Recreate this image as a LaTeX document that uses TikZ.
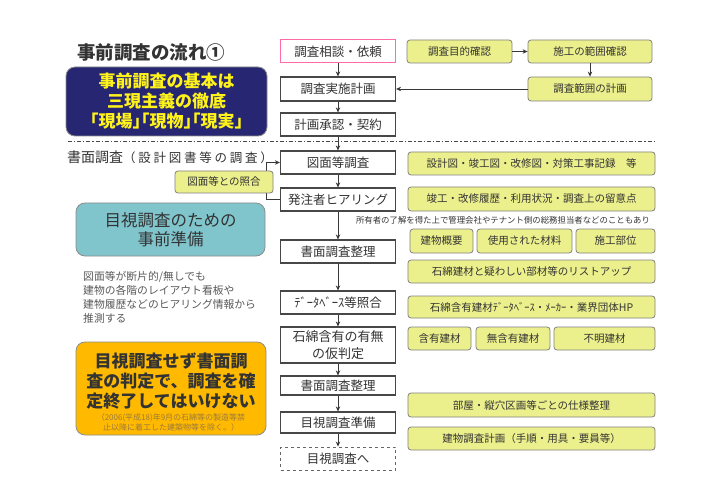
\documentclass[tikz,border=0pt]{standalone}
\usepackage{fontspec}
\setmainfont{Noto Sans CJK JP}
\usepackage{tikz}
\usetikzlibrary{arrows.meta}
\definecolor{navybox}{HTML}{262673}
\definecolor{tealbox}{HTML}{80C4CC}
\definecolor{orangebox}{HTML}{FFBA00}
\definecolor{memoyel}{HTML}{ECF08C}
\definecolor{pinkline}{HTML}{FF6AA8}
\definecolor{ink}{HTML}{333333}
\definecolor{notebrown}{HTML}{9C7A3C}
\newcommand{\fs}[2]{\fontsize{#1}{#2}\selectfont}
\tikzset{
  flow/.style={draw=black!72, line width=1.2pt, fill=white, minimum width=115pt, minimum height=23pt, inner sep=1pt, font=\fs{12.5}{15}, text=ink, align=center},
  memo/.style={draw=black!50, line width=0.8pt, fill=memoyel, rounded corners=3pt, minimum height=23pt, inner sep=1pt, font=\fs{10.5}{12}, text=ink},
  arr/.style={-{Stealth[length=5pt,width=4.5pt]}, line width=0.8pt, black!78},
  panel/.style={draw=black!45, line width=0.8pt, rounded corners=9pt, align=center, inner sep=0pt},
  plain/.style={inner sep=0pt, text=ink}
}

\begin{document}
\begin{tikzpicture}[x=1pt,y=-1pt]
\useasboundingbox (0,0) rectangle (726,500);
% left column
\node[plain, anchor=west, font=\fs{18.5}{22}\bfseries] (title) at (77,52) {事前調査の流れ①};
\node[panel, fill=navybox, text=yellow!90!white, font=\fs{17}{20}\bfseries, minimum width=201pt, minimum height=69pt] (basic) at (166.5,101.5) {事前調査の基本は\\三現主義の徹底\\{\addfontfeature{RawFeature=+halt}「現場」「現物」「現実」}};
\node[plain, anchor=west] (shomen) at (67,157) {{\fs{14}{18}書面調査}{\fs{12.5}{16}\addfontfeature{LetterSpace=22}（設計図書等の調査）}};
\node[panel, fill=tealbox, text=ink, font=\fs{16.5}{19}, minimum width=189pt, minimum height=53pt] (prep) at (170.5,229.5) {目視調査のための\\事前準備};
\node[plain, anchor=north west, align=left, text=black!65, font=\fs{10.8}{14.2}] (hint) at (83,271) {図面等が断片的/無しでも\\建物の各階のレイアウト看板や\\建物履歴などのヒアリング情報から\\推測する};
\node[panel, fill=orangebox, minimum width=190pt, minimum height=93pt] (warn) at (171,388.5) {};
\node[plain, align=center, font=\fs{17}{20}\bfseries] (warntxt) at (171,381) {目視調査せず書面調\\査の判定で、調査を確\\定終了してはいけない};
\node[plain, align=center, text=notebrown, font=\fs{8}{10}] (warnnote) at (171,422.5) {（2006(平成18)年9月の石綿等の製造等禁\\止以降に着工した建築物等を除く。）};

% center flow
\node[flow, draw=pinkline, line width=1pt] (n1) at (338,51.5) {調査相談・依頼};
\node[flow, minimum height=24pt] (n2) at (338,89) {調査実施計画};
\node[flow] (n3) at (338,124.5) {計画承認・契約};
\node[flow] (n4) at (338,162.5) {図面等調査};
\node[flow] (n5) at (338,199.5) {発注者ヒアリング};
\node[flow] (n6) at (338,251.5) {書面調査整理};
\node[flow] (n7) at (338,302.5) {ﾃﾞｰﾀﾍﾞｰｽ等照合};
\node[flow, minimum height=36pt, font=\fs{13}{17}] (n8) at (338,345) {石綿含有の有無\\の仮判定};
\node[flow, minimum height=19pt] (n9) at (338,385.5) {書面調査整理};
\node[flow, minimum height=21pt] (n10) at (338,422.5) {目視調査準備};
\node[flow, dashed, draw=black!60, line width=0.9pt] (n11) at (338,458.5) {目視調査へ};
\foreach \a/\b in {n1/n2,n2/n3,n3/n4,n4/n5,n5/n6,n6/n7,n7/n8,n8/n9,n9/n10,n10/n11}
  \draw[arr] (\a) -- (\b);
\draw[black!72, line width=1pt, dash pattern=on 4pt off 2pt on 1.2pt off 2pt] (68,142) -- (655,142);
\draw[arr] (n5.west) -- ++(-14,0) |- (n4.west);
\node[memo, minimum width=98pt, minimum height=22pt] (check) at (224,182) {図面等との照合};

% right column
\node[memo, minimum width=105pt] (y1) at (459.5,51.5) {調査目的確認};
\node[memo, minimum width=124pt] (y2) at (590,51.5) {施工の範囲確認};
\node[memo, minimum width=124pt, minimum height=24pt] (y3) at (590,89) {調査範囲の計画};
\draw[arr] (y1) -- (y2);
\draw[arr] (y2) -- (y3);
\draw[arr] (y3) -- (n2);
\node[memo, minimum width=247pt] (y4) at (531.5,163.5) {設計図・竣工図・改修図・対策工事記録　等};
\node[memo, minimum width=247pt, minimum height=24pt] (y5) at (531.5,199) {竣工・改修履歴・利用状況・調査上の留意点};
\node[plain, font=\fs{8.4}{10}] (owner) at (503,220) {所有者の了解を得た上で管理会社やテナント側の総務担当者などのこともあり};
\node[memo, minimum width=63pt, minimum height=24pt] (y6) at (441.5,241) {建物概要};
\node[memo, minimum width=95pt, minimum height=24pt] (y7) at (524.5,241) {使用された材料};
\node[memo, minimum width=79pt, minimum height=24pt] (y8) at (615.5,241) {施工部位};
\node[memo, minimum width=247pt] (y9) at (531.5,271.5) {石綿建材と疑わしい部材等のリストアップ};
\node[memo, minimum width=247pt, minimum height=22pt] (y10) at (531.5,307) {石綿含有建材ﾃﾞｰﾀﾍﾞｰｽ・ﾒｰｶｰ・業界団体HP};
\node[memo, minimum width=63pt] (y11) at (439.5,338.5) {含有建材};
\node[memo, minimum width=74pt] (y12) at (513,338.5) {無含有建材};
\node[memo, minimum width=101pt] (y13) at (604.5,338.5) {不明建材};
\node[memo, minimum width=247pt, minimum height=24pt] (y14) at (531.5,405) {部屋・縦穴区画等ごとの仕様整理};
\node[memo, minimum width=247pt] (y15) at (531.5,438.5) {建物調査計画（手順・用具・要員等）};
\end{tikzpicture}
\end{document}
